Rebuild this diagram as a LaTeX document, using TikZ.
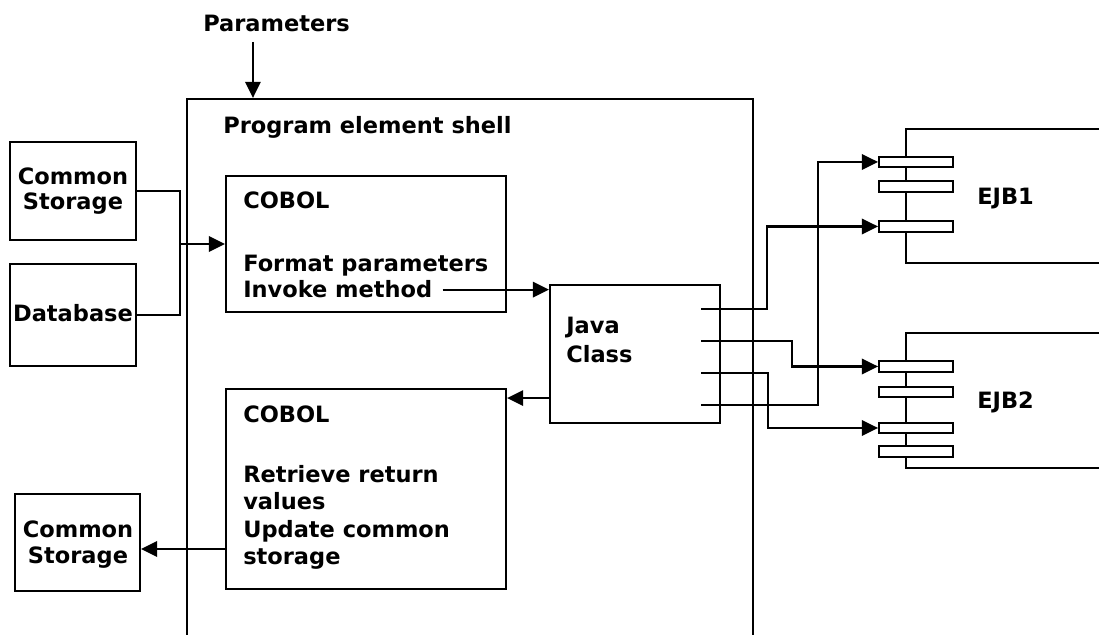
\documentclass[tikz,border=0pt]{standalone}
\usepackage{fontspec}
\setmainfont{DejaVu Sans}
\usetikzlibrary{arrows.meta,fit,calc}
\tikzset{
  box/.style={draw,line width=1.5pt,inner sep=0pt},
  txt/.style={font=\bfseries\fontsize{16}{19}\selectfont,inner sep=0pt,anchor=base west},
  ctxt/.style={txt,anchor=base},
  bar/.style={draw,fill=white,line width=1.3pt,minimum width=1.85cm,minimum height=0.26cm,inner sep=0pt},
  wire/.style={line width=1.5pt},
  arr/.style={wire,-{Triangle[length=11.5pt,width=11pt]}}
}
\begin{document}
\begin{tikzpicture}[x=0.025cm,y=-0.025cm]
\useasboundingbox (0,0) rectangle (1099,635);
% shell, open at the bottom of the page
\node[box,fit={(187,99) (753,670)}] (shell) {};
\node[txt] (par) at (203,32) {Parameters};
\node[txt] (shl) at (223,134) {Program element shell};
\draw[arr] ($(shell.north west)+(67,-56)$) -- ($(shell.north west)+(67,0)$);
% inputs
\node[box,fit={(10,142) (136,240)}] (cs1) {};
\node[ctxt] (cs1a) at (73,185) {Common};
\node[ctxt] (cs1b) at (73,210) {Storage};
\node[box,fit={(10,264) (136,366)}] (db) {};
\node[ctxt] (dba) at (73,322) {Database};
% COBOL in
\node[box,fit={(226,176) (506,312)}] (cob1) {};
\node[txt] (cob1a) at (243,209) {COBOL};
\node[txt] (cob1b) at (243,272) {Format parameters};
\node[txt] (inv) at (243,298) {Invoke method};
% COBOL out
\node[box,fit={(226,389) (506,589)}] (cob2) {};
\node[txt] (cob2a) at (243,423) {COBOL};
\node[txt] (cob2b) at (243,483) {Retrieve return};
\node[txt] (cob2c) at (243,510) {values};
\node[txt] (cob2d) at (243,537) {Update common};
\node[txt] (cob2e) at (243,564) {storage};
% output
\node[box,fit={(15,494) (140,591)}] (cs2) {};
\node[ctxt] (cs2a) at (78,537) {Common};
\node[ctxt] (cs2b) at (78,563) {Storage};
% java class
\node[box,fit={(550,285) (720,423)}] (java) {};
\node[txt] (javaa) at (566,334) {Java};
\node[txt] (javab) at (566,363) {Class};
% EJBs
\draw[wire] (1110,129) -| (906,263) -- (1110,263);
\draw[wire] (1110,333) -| (906,468) -- (1110,468);
\node[bar] (e1a) at (916,162) {};
\node[bar] (e1b) at (916,186.5) {};
\node[bar] (e1c) at (916,226.5) {};
\node[bar] (e2a) at (916,366.5) {};
\node[bar] (e2b) at (916,392) {};
\node[bar] (e2c) at (916,428) {};
\node[bar] (e2d) at (916,451.5) {};
\node[txt] (ejb1) at (977,205) {EJB1};
\node[txt] (ejb2) at (977,409) {EJB2};
% connectors
\coordinate (jn) at ($(cob1.west)+(-45,0)$);
\draw[wire] (cs1.east) -| (jn);
\draw[wire] (db.east) -| (jn);
\draw[arr] (jn) -- (cob1.west);
\draw[arr] ($(inv.east)+(10,0)$) -- (inv.east -| java.west);
\coordinate (jb) at ($(java.south west)+(0,-26)$);
\draw[arr] (jb) -- (jb -| cob2.east);
\coordinate (co) at ($(cob2.west)+(0,60)$);
\draw[arr] (co) -- (co -| cs2.east);
\coordinate (j1) at ($(java.north east)+(-20,25)$);
\coordinate (j2) at ($(java.north east)+(-20,57)$);
\coordinate (j3) at ($(java.north east)+(-20,89)$);
\coordinate (j4) at ($(java.north east)+(-20,121)$);
\draw[arr] (j1) -- ++(66,0) |- (e1c.west);
\draw[arr] (j2) -- ++(91,0) |- (e2a.west);
\draw[arr] (j3) -- ++(67,0) |- (e2c.west);
\draw[arr] (j4) -- ++(117,0) |- (e1a.west);
\end{tikzpicture}
\end{document}
